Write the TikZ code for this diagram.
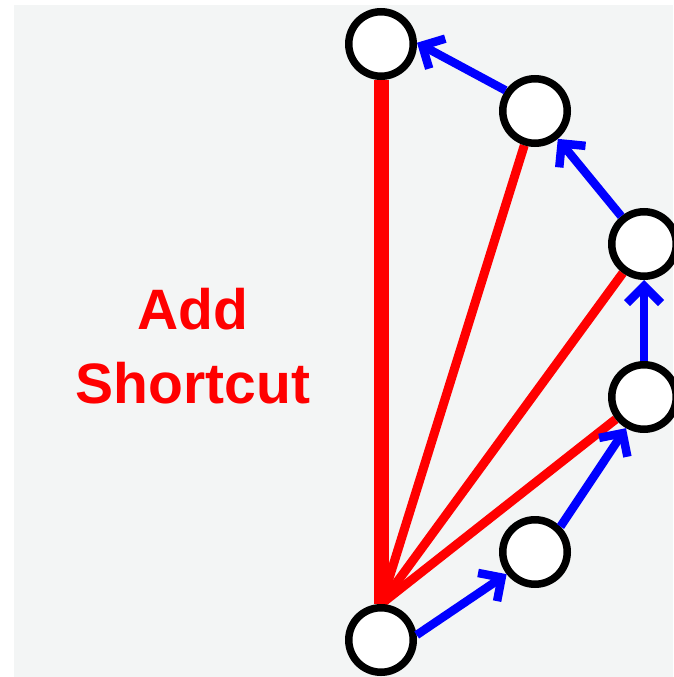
\documentclass[tikz,border=0pt]{standalone}
\usepackage{fontspec}
\setmainfont{Liberation Sans}
\usetikzlibrary{arrows.meta,backgrounds}
\definecolor{fundo}{RGB}{243,245,245}
\begin{document}
\begin{tikzpicture}[x=1pt,y=-1pt]
	% Estilos para os nós
	\tikzstyle{vertice} = [circle, draw=black, line width=7.5pt, fill=white, minimum size=64.5pt, inner sep=0pt]
	\tikzstyle{atalho} = [draw=red, line width=9pt]
	\tikzstyle{seta} = [draw=blue, line width=8.5pt, -{Straight Barb[length=17pt,width=34pt]}]
	\useasboundingbox (0,0) rectangle (673,677);
	% Nós
	\node (v0) [vertice] at (381,640) {};
	\node (v1) [vertice] at (535,552) {};
	\node (v2) [vertice] at (644,397) {};
	\node (v3) [vertice] at (644,244) {};
	\node (v4) [vertice] at (535,111) {};
	\node (v5) [vertice] at (381,44) {};
	\node (rotulo) [text=red, font=\fontsize{57}{74}\selectfont\bfseries, align=center, inner sep=0pt] at (193,346) {Add\\Shortcut};
	% Atalhos
	\begin{scope}[on background layer]
		\fill [fundo] (14,5) rectangle (673,677);
		\draw [atalho, line width=15pt] (v0.north) -- (v5);
		\draw [atalho] (v0.north) -- (v4);
		\draw [atalho] (v0.north) -- (v3);
		\draw [atalho] (v0.north) -- (v2);
	\end{scope}
	% Setas
	\draw [seta] (v0.8) -- (v1.218);
	\draw [seta] (v1.45) -- (v2.240);
	\draw [seta] (v2) -- (v3);
	\draw [seta] (v3) -- (v4);
	\draw [seta] (v4.145) -- (v5.2);
\end{tikzpicture}
\end{document}
